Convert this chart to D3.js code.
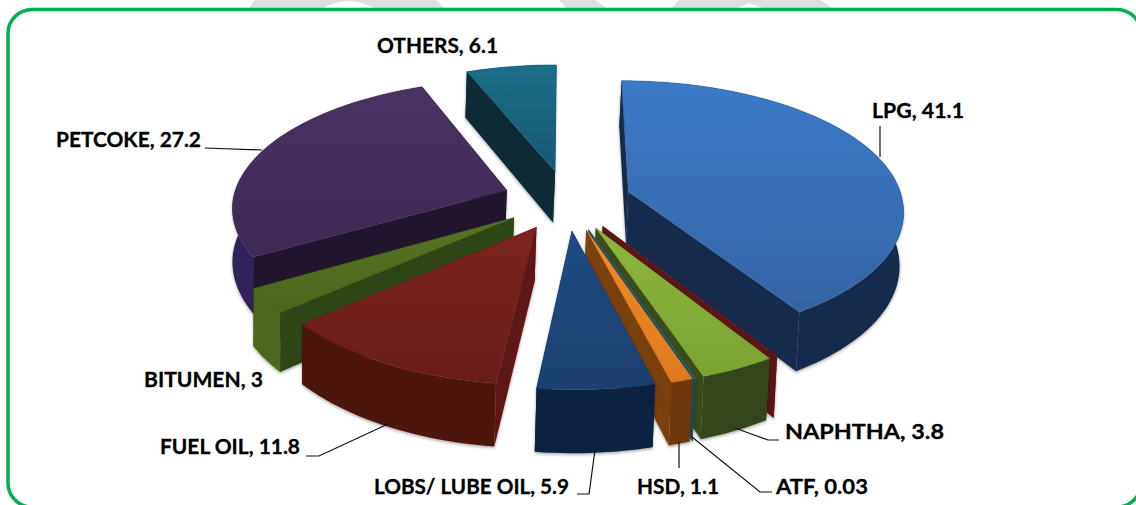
<!DOCTYPE html>
<html><head><meta charset="utf-8">
<script src="https://cdn.jsdelivr.net/npm/d3@7/dist/d3.min.js"></script>
<style>html,body{margin:0;padding:0;background:#fff;overflow:hidden}svg{display:block}
text{font-family:Lato,"Open Sans",sans-serif;font-weight:700;fill:#000;stroke:#000;stroke-width:.3px;font-size:20.6px}</style>
</head><body><svg id="c" width="1136" height="505"></svg>
<script>
const categories = ["LPG","","NAPHTHA","ATF","HSD","LOBS/ LUBE OIL","FUEL OIL","BITUMEN","PETCOKE","OTHERS"];
const values     = [41.1,0.02,3.8,0.03,1.1,5.9,11.8,3,27.2,6.1];
const topLight   = ["#3C7BC8","#7A2020","#8DB63E","#2C6F86","#F28C28","#1F4C84","#7C2420","#587322","#4B3265","#1B6E8A"];
const topDark    = ["#3364A5","#7A2020","#7BA333","#2C6F86","#DD7A1E","#1B406F","#691B19","#4C661D","#3D2953","#165A71"];
const outerWall  = ["#162B4B","#5A1414","#35441A","#1F4F60","#70390E","#0E2240","#4E1210","#4B671C","#33245A","#0E3C4B"];
const radialWall = ["#162B4B","#5A1414","#3A4C1C","#1F4F60","#7A400F","#0F2646","#5E1715","#2E4412","#20152F","#0A2A35"];
const labelText  = values.map((v,i)=>categories[i] ? categories[i]+", "+v : "");

// layout (not data): x, middle y, width of each label
const labelPos = {"LPG":[872,113,92],"NAPHTHA":[785,434,159],"ATF":[776,489,92],"HSD":[637,489,82],"LOBS/ LUBE OIL":[374,489,195],
  "FUEL OIL":[160,449,140],"BITUMEN":[144,382,119],"PETCOKE":[56,142,145],"OTHERS":[377,48,121]};
const leaders = [[[205,148],[262,150]],[[880,126],[880,157]],[[306,456],[319,456],[388,424]],
  [[577,494],[589,494],[595,450]],[[679,468],[679,442]],[[772,492],[760,492],[692,437]],[[779,440],[768,440],[735,428]]];
const watermark = ["M255,0 L248,9 L322,9 Q349,-7 375,9 L446,9 L436,0 Z","M559,0 L567,9 L608,9 L595,0 Z",
  "M679,0 L671,9 L735,9 L749,3 L765,9 L834,9 L820,0 Z"];

const cx=567, cy=200, explode=0.235, perspX=0.125, perspY=0.135, skew=3, depth=53;
const baseShrink=0.994, vanishX=232;
const sx=d3.scaleLinear().domain([-1,1]).range([-274,274]);
const sy=d3.scaleLinear().domain([-1,1]).range([128,-128]);
function project(u,v,down){
  const s=1/(1+perspX*v), t=1/(1+perspY*v);
  let X=cx+sx(u)*s+(v<0?-skew*v:0), Y=cy+sy(v)*t;
  if(down){X=vanishX+(X-vanishX)*baseShrink; Y+=depth*t;}
  return [X,Y];
}
const svg=d3.select("#c");
const defs=svg.append("defs");
const f=defs.append("filter").attr("id","sh").attr("x","-20%").attr("y","-20%").attr("width","140%").attr("height","140%");
f.append("feDropShadow").attr("dx",0).attr("dy",1.5).attr("stdDeviation",1.6).attr("flood-color","#000").attr("flood-opacity",.35);

svg.selectAll("path.wm").data(watermark).join("path").attr("class","wm").attr("d",d=>d).attr("fill","#dedede");
svg.append("rect").attr("x",8).attr("y",9.5).attr("width",1133).attr("height",497.5).attr("rx",24)
  .attr("fill","none").attr("stroke","#00B050").attr("stroke-width",3.5);

const pie=d3.pie().sort(null).startAngle(0).endAngle(2*Math.PI);
const arcs=pie(values).map((a,i)=>({...a,i,mid:(a.startAngle+a.endAngle)/2}));
const line=d3.line();
function pts(a,down){
  const ex=explode*Math.sin(a.mid), ey=explode*Math.cos(a.mid);
  const n=Math.max(2,Math.ceil((a.endAngle-a.startAngle)/0.03));
  const ang=d3.range(n+1).map(k=>a.startAngle+(a.endAngle-a.startAngle)*k/n);
  return {apex:project(ex,ey,down),rim:ang.map(t=>project(ex+Math.sin(t),ey+Math.cos(t),down))};
}
arcs.forEach(a=>{
  const g=defs.append("linearGradient").attr("id","g"+a.i).attr("x1",0).attr("y1",0).attr("x2",0).attr("y2",1);
  g.append("stop").attr("offset",0).attr("stop-color",topLight[a.i]);
  g.append("stop").attr("offset",1).attr("stop-color",topDark[a.i]);
});
const order=arcs.slice().sort((p,q)=>Math.abs(q.mid-Math.PI)-Math.abs(p.mid-Math.PI));
order.forEach(a=>{
  const t=pts(a,false), b=pts(a,true);
  const grp=svg.append("g");
  const walls=grp.append("g").attr("filter","url(#sh)");
  const last=t.rim.length-1;
  const startFront=Math.sin(a.startAngle)<0, endFront=Math.sin(a.endAngle)>0;
  const startWall=line([t.apex,t.rim[0],b.rim[0],b.apex])+"Z";
  const endWall=line([t.apex,t.rim[last],b.rim[last],b.apex])+"Z";
  const rad=d=>walls.append("path").attr("d",d).attr("fill",radialWall[a.i]);
  if(!startFront) rad(startWall);
  if(!endFront) rad(endWall);
  walls.append("path").attr("d",line(t.rim.concat(b.rim.slice().reverse()))+"Z").attr("fill",outerWall[a.i]);
  if(startFront) rad(startWall);
  if(endFront) rad(endWall);
  grp.append("path").attr("d",line([t.apex].concat(t.rim))+"Z").attr("fill",`url(#g${a.i})`)
    .attr("stroke",topDark[a.i]).attr("stroke-width",.5);
});
svg.selectAll("path.lead").data(leaders).join("path").attr("class","lead").attr("d",d=>line(d))
  .attr("fill","none").attr("stroke","#111").attr("stroke-width",1.2);
svg.selectAll("text").data(arcs.filter(a=>categories[a.i])).join("text")
  .attr("x",a=>labelPos[categories[a.i]][0]).attr("y",a=>labelPos[categories[a.i]][1])
  .attr("textLength",a=>labelPos[categories[a.i]][2]).attr("lengthAdjust","spacingAndGlyphs")
  .attr("dominant-baseline","middle").text(a=>labelText[a.i]);
</script></body></html>
